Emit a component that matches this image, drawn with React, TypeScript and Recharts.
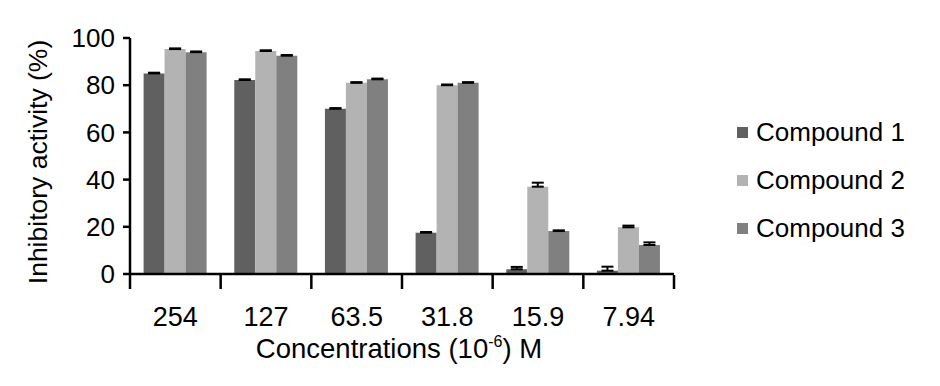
import { BarChart, Bar, XAxis, YAxis, ErrorBar } from "recharts";

const concentrations = ["254", "127", "63.5", "31.8", "15.9", "7.94"];
const compound1 = [85, 82.2, 70, 17.5, 2, 1.4];
const compound2 = [95.3, 94.5, 81, 80, 37, 19.8];
const compound3 = [94, 92.5, 82.5, 81, 18.2, 12.3];
const err1 = [0.3, 0.3, 0.3, 0.3, 1, 1.7];
const err2 = [0.3, 0.3, 0.3, 0.3, 1.7, 0.7];
const err3 = [0.3, 0.3, 0.3, 0.3, 0.3, 1.1];
const yTicks = [0, 20, 40, 60, 80, 100];

const seriesNames = ["Compound 1", "Compound 2", "Compound 3"];
const colors = ["#606060", "#b3b3b3", "#808080"];

const data = concentrations.map((c, i) => ({
  conc: c,
  c1: compound1[i],
  c2: compound2[i],
  c3: compound3[i],
  e1: [0, err1[i]],
  e2: [0, err2[i]],
  e3: [0, err3[i]],
}));

const FONT = "'Liberation Sans', Arial, sans-serif";
const PLOT_LEFT = 130;
const PLOT_RIGHT = 674;
const BAND = (PLOT_RIGHT - PLOT_LEFT) / concentrations.length;

function XTick(props: any) {
  const { x, y, payload, index } = props;
  const left = x - BAND / 2;
  return (
    <g>
      <line x1={left} x2={left} y1={y - 7} y2={y + 7} stroke="#000" strokeWidth={2.5} />
      {index === concentrations.length - 1 && (
        <line x1={left + BAND} x2={left + BAND} y1={y - 7} y2={y + 7} stroke="#000" strokeWidth={2.5} />
      )}
      <text x={x} y={y + 44} textAnchor="middle" fontSize={27} fontFamily={FONT} fill="#000">
        {payload.value}
      </text>
    </g>
  );
}

function XTitle() {
  return (
    <text x={399} y={358} textAnchor="middle" fontSize={27.5} fontFamily={FONT} fill="#000">
      Concentrations (10
      <tspan fontSize={16} dy={-11}>-6</tspan>
      <tspan dy={11}>) M</tspan>
    </text>
  );
}

function LegendBox() {
  return (
    <div style={{ position: "absolute", left: 737, top: 108, fontFamily: FONT, fontSize: 26, color: "#000" }}>
      {seriesNames.map((n, i) => (
        <div key={n} style={{ display: "flex", alignItems: "center", height: 48 }}>
          <span style={{ width: 11, height: 11, background: colors[i], marginRight: 8, display: "inline-block" }} />
          {n}
        </div>
      ))}
    </div>
  );
}

export default function App() {
  return (
    <div style={{ position: "absolute", left: 0, top: 0, width: 940, height: 386, background: "#fff" }}>
      <BarChart
        width={940}
        height={386}
        data={data}
        margin={{ top: 38, right: 940 - PLOT_RIGHT, left: 0, bottom: 0 }}
        barCategoryGap="15%"
        barGap={0}
      >
        <XAxis
          dataKey="conc"
          tick={<XTick />}
          tickLine={false}
          axisLine={{ stroke: "#000", strokeWidth: 2.5 }}
          interval={0}
          height={112}
          label={() => <XTitle />}
        />
        <YAxis
          domain={[0, 100]}
          ticks={yTicks}
          width={PLOT_LEFT}
          axisLine={{ stroke: "#000", strokeWidth: 2.5 }}
          tickLine={{ stroke: "#000", strokeWidth: 2.5 }}
          tickSize={7}
          tick={{ fontSize: 26, fontFamily: FONT, fill: "#000" }}
          tickMargin={8}
          label={{
            value: "Inhibitory activity (%)",
            angle: -90,
            position: "insideLeft",
            dx: 33,
            dy: 6,
            style: { textAnchor: "middle", fontSize: 26.5, fontFamily: FONT, fill: "#000" },
          }}
        />
        <Bar dataKey="c1" name={seriesNames[0]} fill={colors[0]} isAnimationActive={false}>
          <ErrorBar dataKey="e1" width={6} stroke="#000" strokeWidth={2} />
        </Bar>
        <Bar dataKey="c2" name={seriesNames[1]} fill={colors[1]} isAnimationActive={false}>
          <ErrorBar dataKey="e2" width={6} stroke="#000" strokeWidth={2} />
        </Bar>
        <Bar dataKey="c3" name={seriesNames[2]} fill={colors[2]} isAnimationActive={false}>
          <ErrorBar dataKey="e3" width={6} stroke="#000" strokeWidth={2} />
        </Bar>
      </BarChart>
      <LegendBox />
    </div>
  );
}
